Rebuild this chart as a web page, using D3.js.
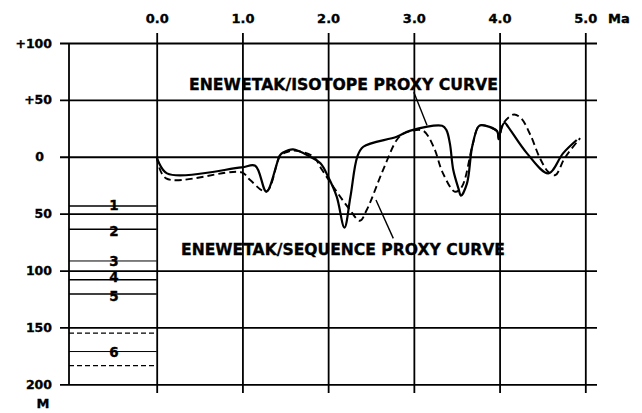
<!DOCTYPE html>
<html>
<head>
<meta charset="utf-8">
<script src="https://cdn.jsdelivr.net/npm/d3@7"></script>
<style>
  html, body { margin: 0; padding: 0; background: #fff; }
  svg { display: block; }
  text { font-family: "DejaVu Sans", "Liberation Sans", Arial, sans-serif; font-weight: bold; fill: #000; }
</style>
</head>
<body>
<svg id="chart" width="642" height="413"></svg>
<script>
// Age axis (Ma) and sea-level axis (m, + above present)
const ageTicks = [0, 1, 2, 3, 4, 5];
const levelTicks = [100, 50, 0, -50, -100, -150, -200];

// Enewetak isotope proxy curve (solid)
const isoAge   = [0.00, 0.12, 0.99, 1.15, 1.28, 1.44, 1.48, 1.59, 1.79, 1.91, 2.00, 2.10, 2.19, 2.26, 2.34, 2.41, 2.80, 2.96, 3.33, 3.38, 3.42, 3.46, 3.52, 3.55, 3.62, 3.68, 3.75, 3.79, 3.97, 3.99, 4.02, 4.06, 4.10, 4.32, 4.57, 4.74, 4.90];
const isoLevel = [0, -14.6, -9.3, -7.9, -30.6, 1.5, 3.9, 6.5, 0, -5.8, -17.6, -35.1, -62.2, -35.1, 0, 8.8, 17.6, 23.0, 27.2, 23.4, 11.8, -11.7, -27.8, -34.2, -23.4, 8.8, 26.3, 27.8, 22.6, 15.5, 25.2, 29.9, 26.3, 3.0, -14.6, 3.0, 14.7];

// Enewetak sequence proxy curve (dashed)
const seqAge   = [0.00, 0.11, 0.99, 1.09, 1.28, 1.44, 1.48, 1.59, 1.83, 1.93, 2.24, 2.37, 2.45, 2.64, 2.80, 2.88, 2.96, 3.11, 3.23, 3.34, 3.48, 3.56, 3.68, 3.75, 3.79, 3.97, 3.99, 4.04, 4.11, 4.17, 4.25, 4.36, 4.47, 4.57, 4.65, 4.76, 4.94];
const seqLevel = [0, -19.0, -13.7, -20.5, -30.6, 1.5, 3.0, 5.4, 0, -11.7, -45.3, -56.2, -46.8, -11.7, 14.7, 20.5, 22.6, 22.8, 8.8, -14.6, -30.7, -26.3, 8.8, 26.3, 27.8, 22.6, 15.5, 28.7, 34.9, 37.1, 34.0, 19.1, -1.1, -13.4, -16.1, -1.1, 16.4];

// Stratigraphic units in the left column (depth below present, m)
const unitLabels = ["1", "2", "3", "4", "5", "6"];
const unitTops   = [-43.3, -63.8, -91.6, -108, -120.6, -171.2];
const unitDashed = [-155, -183.5];

const svg = d3.select("#chart");
const x = d3.scaleLinear().domain([0, 5]).range([156.7, 585.3]);
const y = d3.scaleLinear().domain([100, -200]).range([43, 384.3]);

const gridLeft = 60, gridRight = 597, colLeft = 69;
const heavy = sel => sel.attr("stroke", "#000").attr("stroke-width", 0.35);

// horizontal grid + sea-level labels
const yAxis = d3.axisLeft(y)
  .tickValues(levelTicks)
  .tickSize(-(gridRight - gridLeft))
  .tickPadding(8)
  .tickFormat(d => d > 0 ? "+" + d : String(Math.abs(d)));
const gy = svg.append("g").attr("transform", `translate(${gridLeft},0)`).call(yAxis);
gy.select(".domain").remove();
gy.selectAll(".tick line").attr("stroke", "#000").attr("stroke-width", 1.8);
gy.selectAll(".tick text").attr("font-size", 12.5).attr("fill", "#000")
  .attr("font-family", null)
  .attr("x", d => d === 0 ? -16 : -8)
  .call(heavy);

// vertical grid + age labels
const xAxis = d3.axisTop(x)
  .tickValues(ageTicks)
  .tickSize(-360)
  .tickPadding(10)
  .tickFormat(d3.format(".1f"));
const gx = svg.append("g").attr("transform", "translate(0,33)").call(xAxis);
gx.select(".domain").remove();
gx.selectAll(".tick line").attr("stroke", "#000").attr("stroke-width", 1.8);
gx.selectAll(".tick text").attr("font-size", 13).attr("fill", "#000")
  .attr("font-family", null)
  .call(heavy);

svg.append("text").attr("x", 608).attr("y", 23).attr("font-size", 13).text("Ma").call(heavy);
svg.append("text").attr("x", 43).attr("y", 408).attr("font-size", 13)
  .attr("text-anchor", "middle").text("M").call(heavy);

// left column frame
svg.append("line")
  .attr("x1", colLeft).attr("x2", colLeft)
  .attr("y1", y(100)).attr("y2", y(-200))
  .attr("stroke", "#000").attr("stroke-width", 1.8);

// unit boundaries
const colRight = x(0);
svg.append("g").selectAll("line")
  .data(unitTops)
  .join("line")
  .attr("x1", colLeft).attr("x2", colRight)
  .attr("y1", d => y(d)).attr("y2", d => y(d))
  .attr("stroke", "#000").attr("stroke-width", (d, i) => (i === 2 || i === 5) ? 1 : 1.5);
svg.append("g").selectAll("line")
  .data(unitDashed)
  .join("line")
  .attr("x1", colLeft).attr("x2", colRight)
  .attr("y1", d => y(d)).attr("y2", d => y(d))
  .attr("stroke", "#000").attr("stroke-width", 1.3)
  .attr("stroke-dasharray", "5,3");
svg.append("g").selectAll("text")
  .data(unitLabels)
  .join("text")
  .attr("x", 114)
  .attr("y", (d, i) => y(unitTops[i]) + [4, 6.5, 5, 2.3, 7, 5.3][i])
  .attr("text-anchor", "middle")
  .attr("font-size", 13.5)
  .text(d => d)
  .call(heavy);

// curves
const line = d3.line().x(d => x(d[0])).y(d => y(d[1])).curve(d3.curveCatmullRom.alpha(0.5));
svg.append("path")
  .datum(seqAge.map((a, i) => [a, seqLevel[i]]))
  .attr("d", line)
  .attr("fill", "none").attr("stroke", "#000")
  .attr("stroke-width", 1.9).attr("stroke-dasharray", "7,4")
  .attr("stroke-linejoin", "round");
svg.append("path")
  .datum(isoAge.map((a, i) => [a, isoLevel[i]]))
  .attr("d", line)
  .attr("fill", "none").attr("stroke", "#000")
  .attr("stroke-width", 2.2)
  .attr("stroke-linejoin", "round");

// curve labels with leader lines
svg.append("text").attr("x", 189).attr("y", 90).attr("font-size", 15.5)
  .attr("textLength", 309).attr("lengthAdjust", "spacingAndGlyphs")
  .text("ENEWETAK/ISOTOPE PROXY CURVE").call(heavy);
svg.append("line")
  .attr("x1", x(3.00)).attr("y1", y(56.8)).attr("x2", x(3.153)).attr("y2", y(27.8))
  .attr("stroke", "#000").attr("stroke-width", 1.4);

svg.append("text").attr("x", 181).attr("y", 255).attr("font-size", 15.5)
  .attr("textLength", 324).attr("lengthAdjust", "spacingAndGlyphs")
  .text("ENEWETAK/SEQUENCE PROXY CURVE").call(heavy);
svg.append("line")
  .attr("x1", x(2.558)).attr("y1", y(-38)).attr("x2", x(2.76)).attr("y2", y(-71.7))
  .attr("stroke", "#000").attr("stroke-width", 1.4);
</script>
</body>
</html>
